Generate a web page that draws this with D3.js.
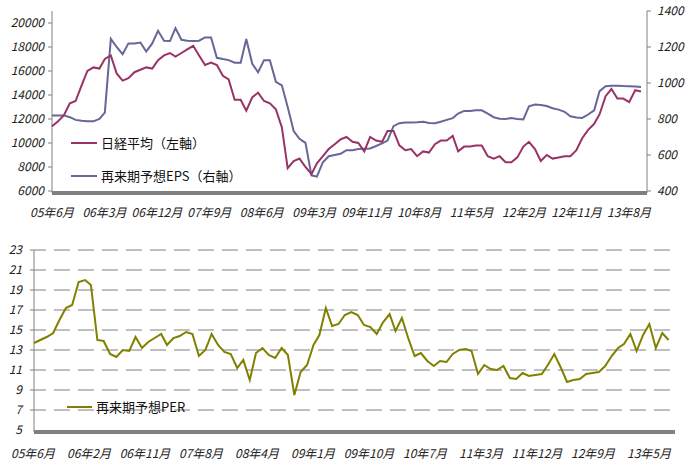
<!DOCTYPE html>
<html><head><meta charset="utf-8">
<script src="https://cdn.jsdelivr.net/npm/d3@7"></script>
<style>body{margin:0;background:#fff}text{font-family:"Noto Sans CJK JP",sans-serif}</style>
</head><body><div id="chart"></div>
<script>
// monthly values from 2005-06
const nikkei = [11400,11800,12300,13300,13500,14800,16000,16300,16200,17000,17300,15800,15200,15400,15900,16100,16300,16200,16900,17300,17500,17200,17500,17800,18100,17300,16500,16700,16500,15600,15300,13600,13600,12700,13800,14200,13500,13300,12800,11300,7900,8500,8700,8000,7400,8300,8900,9500,9900,10300,10500,10100,10000,9300,10500,10200,10100,11000,11000,9800,9400,9500,8900,9300,9200,9900,10200,10200,10600,9300,9700,9700,9800,9800,8900,8700,8900,8400,8400,8800,9700,10100,9500,8500,9000,8700,8800,8900,8900,9400,10400,11100,11600,12400,13900,14500,13700,13700,13400,14400,14300];
const eps = [820,820,820,810,795,790,788,787,800,835,1245,1200,1160,1220,1220,1225,1175,1220,1290,1235,1233,1305,1240,1235,1233,1235,1253,1253,1140,1133,1127,1113,1113,1245,1107,1060,1127,1127,1007,987,867,733,690,667,487,480,560,593,600,607,627,627,633,635,636,650,665,680,760,777,780,780,782,785,778,776,785,795,805,830,845,845,848,848,830,810,802,800,805,800,798,870,880,878,872,860,852,840,815,808,806,825,848,955,982,985,985,983,982,980,978];
const per = [13.7,14.0,14.3,14.7,16.0,17.2,17.5,19.8,20.0,19.5,14.0,13.9,12.6,12.3,13.0,12.9,14.3,13.2,13.8,14.2,14.6,13.5,14.2,14.4,14.8,14.6,12.4,13.0,14.6,13.5,12.8,12.6,11.2,12.0,10.0,12.7,13.2,12.5,12.2,13.2,12.5,8.5,10.8,11.5,13.5,14.5,17.2,15.4,15.6,16.5,16.8,16.5,15.5,15.3,14.6,15.8,16.6,14.9,16.2,14.2,12.4,12.7,11.9,11.4,11.9,11.8,12.6,13.0,13.1,12.9,10.6,11.5,11.1,11.0,11.4,10.2,10.1,10.7,10.4,10.5,10.6,11.5,12.6,11.3,9.8,10.0,10.1,10.6,10.7,10.8,11.4,12.4,13.2,13.6,14.6,12.9,14.5,15.6,13.2,14.7,14.0];
const topLabels = ["05年6月","06年3月","06年12月","07年9月","08年6月","09年3月","09年11月","10年8月","11年5月","12年2月","12年11月","13年8月"];
const botLabels = ["05年6月","06年2月","06年11月","07年8月","08年4月","09年1月","09年10月","10年7月","11年3月","11年12月","12年9月","13年5月"];
const leftTicks = [6000,8000,10000,12000,14000,16000,18000,20000];
const rightTicks = [400,600,800,1000,1200,1400];
const perTicks = [5,7,9,11,13,15,17,19,21,23];

const start = new Date(2005,5,1), end = new Date(2013,10,1);
const date = i => d3.timeMonth.offset(start, i);

const svg = d3.select("#chart").append("svg").attr("width",690).attr("height",465);
const grey = "#808080";
const lblStyle = s => s.attr("text-anchor","middle").attr("font-size",12).attr("font-style","italic").attr("fill","#222");

// top chart
const x1 = d3.scaleTime().domain([start,end]).range([52,647]);
const xl1 = d3.scalePoint().domain(topLabels).range([52,629]);
const yL = d3.scaleLinear().domain([6000,21000]).range([191,11]);
const yR = d3.scaleLinear().domain([400,1400]).range([191,11]);
svg.append("line").attr("x1",52).attr("x2",52).attr("y1",11).attr("y2",193).attr("stroke",grey);
svg.append("line").attr("x1",647).attr("x2",647).attr("y1",11).attr("y2",193).attr("stroke",grey);
svg.selectAll(".lt").data(leftTicks).join("g").each(function(d){
  const g = d3.select(this);
  g.append("line").attr("x1",48).attr("x2",52).attr("y1",yL(d)).attr("y2",yL(d)).attr("stroke",grey);
  g.append("text").attr("x",44).attr("y",yL(d)+4).attr("text-anchor","end").attr("font-size",12).attr("font-style","italic").attr("fill","#222").text(d);
});
svg.selectAll(".rt").data(rightTicks).join("g").each(function(d){
  const g = d3.select(this);
  g.append("line").attr("x1",647).attr("x2",651).attr("y1",yR(d)).attr("y2",yR(d)).attr("stroke",grey);
  g.append("text").attr("x",657).attr("y",yR(d)+4).attr("font-size",12).attr("font-style","italic").attr("fill","#222").text(d);
});
svg.append("rect").attr("x",52).attr("y",191).attr("width",595).attr("height",4).attr("fill",grey);
svg.selectAll(".xt").data(topLabels).join("text").attr("x",d=>xl1(d)).attr("y",217).call(lblStyle).text(d=>d);

svg.append("path").datum(eps).attr("fill","none").attr("stroke","#666699").attr("stroke-width",2)
  .attr("d", d3.line().x((d,i)=>x1(date(i))).y(d=>yR(d)));
svg.append("path").datum(nikkei).attr("fill","none").attr("stroke","#993366").attr("stroke-width",2)
  .attr("d", d3.line().x((d,i)=>x1(date(i))).y(d=>yL(d)));

const legend = [["日経平均（左軸）","#993366",143],["再来期予想EPS（右軸）","#666699",176]];
legend.forEach(([t,c,y])=>{
  svg.append("line").attr("x1",71).attr("x2",97).attr("y1",y).attr("y2",y).attr("stroke",c).attr("stroke-width",2);
  svg.append("text").attr("x",101).attr("y",y+5).attr("font-size",13).attr("fill","#111").text(t);
});

// bottom chart
const x2 = d3.scaleTime().domain([start,end]).range([34,675]);
const xl2 = d3.scalePoint().domain(botLabels).range([33,649]);
const y2 = d3.scaleLinear().domain([5,23]).range([430,250]);
svg.selectAll(".grid").data(perTicks.slice(1)).join("line").attr("x1",30).attr("x2",675)
  .attr("y1",d=>y2(d)).attr("y2",d=>y2(d)).attr("stroke",grey).attr("stroke-dasharray","16,8");
svg.append("line").attr("x1",34).attr("x2",34).attr("y1",250).attr("y2",432).attr("stroke",grey);
svg.selectAll(".pt").data(perTicks).join("text").attr("x",22).attr("y",d=>y2(d)+4).attr("text-anchor","end")
  .attr("font-size",12).attr("font-style","italic").attr("fill","#222").text(d=>d);
svg.append("rect").attr("x",34).attr("y",430).attr("width",641).attr("height",4).attr("fill",grey);
svg.selectAll(".xb").data(botLabels).join("text").attr("x",d=>xl2(d)).attr("y",458).call(lblStyle).text(d=>d);
svg.append("path").datum(per).attr("fill","none").attr("stroke","#808000").attr("stroke-width",2)
  .attr("d", d3.line().x((d,i)=>x2(date(i))).y(d=>y2(d)));
svg.append("line").attr("x1",67).attr("x2",92).attr("y1",407).attr("y2",407).attr("stroke","#808000").attr("stroke-width",2);
svg.append("text").attr("x",96).attr("y",412).attr("font-size",13).attr("fill","#111").text("再来期予想PER");
</script></body></html>
